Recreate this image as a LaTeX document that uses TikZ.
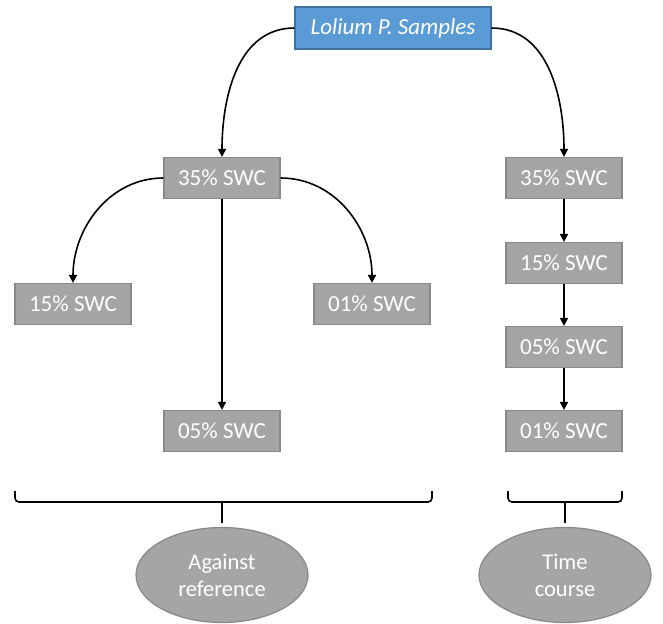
\documentclass[tikz,border=0pt]{standalone}
\usepackage{fontspec}
\setmainfont{Carlito}
\usetikzlibrary{arrows.meta,shapes.geometric}
\definecolor{bluefill}{HTML}{5B9BD5}
\definecolor{blueedge}{HTML}{41719C}
\definecolor{grayfill}{HTML}{A5A5A5}
\definecolor{grayedge}{HTML}{888888}
\begin{document}
\begin{tikzpicture}[x=1pt,y=-1pt,
  box/.style={draw=grayedge, fill=grayfill, line width=1.2pt, minimum width=116pt, minimum height=41pt, inner sep=0pt, text=white, font=\fontsize{23}{26}\selectfont},
  topbox/.style={box, draw=blueedge, fill=bluefill, minimum width=196pt, minimum height=42pt, font=\fontsize{23}{26}\selectfont\itshape},
  oval/.style={ellipse, draw=grayedge, fill=grayfill, line width=1.2pt, minimum width=172pt, minimum height=95pt, inner sep=0pt, text=white, align=center, font=\fontsize{22.5}{27}\selectfont},
  conn/.style={line width=1.6pt, -{Triangle[length=8pt,width=8pt]}},
  bracestyle/.style={line width=1.6pt, rounded corners=4pt}]
\useasboundingbox (0,0) rectangle (663,623);
\node[topbox] (top) at (393,28) {Lolium P. Samples};
\node[box] (a35) at (222,178) {35\% SWC};
\node[box] (a15) at (73,304) {15\% SWC};
\node[box] (a01) at (372,304) {01\% SWC};
\node[box] (a05) at (222,431) {05\% SWC};
\node[box] (b35) at (564,178) {35\% SWC};
\node[box] (b15) at (564,263) {15\% SWC};
\node[box] (b05) at (564,347) {05\% SWC};
\node[box] (b01) at (564,431) {01\% SWC};
\node[oval] (ref) at (222,575) {Against\\reference};
\node[oval] (time) at (565,575) {Time\\course};
\draw[conn] (top.west) to[out=180,in=90] (a35.north);
\draw[conn] (top.east) to[out=0,in=90] (b35.north);
\draw[conn] (a35.west) to[out=180,in=90] (a15.north);
\draw[conn] (a35.east) to[out=0,in=90] (a01.north);
\draw[conn] (a35.south) -- (a05.north);
\draw[conn] (b35) -- (b15);
\draw[conn] (b15) -- (b05);
\draw[conn] (b05) -- (b01);
% braces
\coordinate (la) at (15,491);
\coordinate (lb) at (432,491);
\coordinate (ra) at (508,491);
\coordinate (rb) at (622,491);
\coordinate (lm) at (222,502);
\coordinate (lt) at (222,523);
\coordinate (rm) at (565,502);
\coordinate (rt) at (565,523);
\draw[bracestyle] (la) -- (15,502) -- (432,502) -- (lb);
\draw[line width=1.6pt] (lm) -- (lt);
\draw[bracestyle] (ra) -- (508,502) -- (622,502) -- (rb);
\draw[line width=1.6pt] (rm) -- (rt);
\end{tikzpicture}
\end{document}
